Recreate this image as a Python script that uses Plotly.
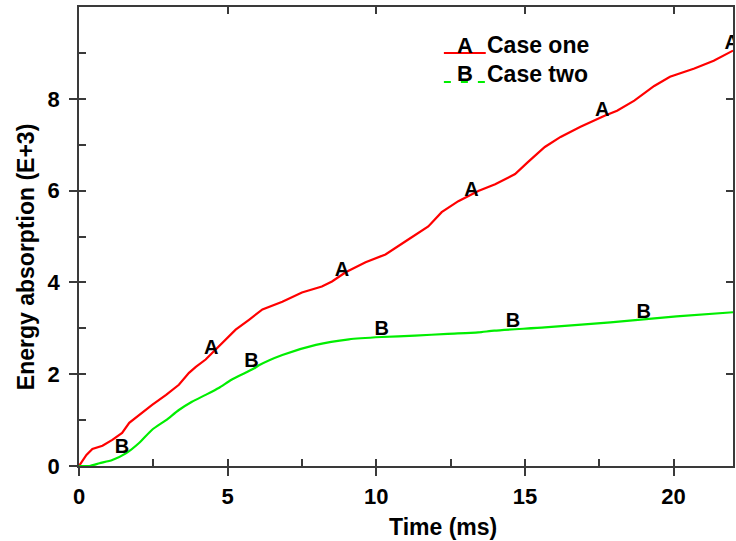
import plotly.graph_objects as go

# Case one (A), red curve
t_a = [0, 0.25, 0.45, 0.79, 1.12, 1.45, 1.69, 2.02, 2.46, 2.93, 3.36, 3.7, 3.93, 4.26, 4.6, 4.93, 5.27, 5.73, 6.17, 6.84, 7.5, 8.17, 8.51, 8.97,
       9.64, 10.31, 10.75, 11.09, 11.75, 12.2, 12.76, 13.43, 14.0, 14.67, 15.1, 15.67, 16.2, 16.87, 17.68, 18.1, 18.68, 19.35, 19.88, 20.7, 21.35, 22.0]
e_a = [0, 0.24, 0.37, 0.44, 0.57, 0.72, 0.94, 1.11, 1.33, 1.55, 1.77, 2.03, 2.16, 2.32, 2.54, 2.75, 2.97, 3.19, 3.41, 3.58, 3.78, 3.91, 4.02, 4.22,
       4.44, 4.61, 4.79, 4.94, 5.22, 5.53, 5.77, 5.99, 6.14, 6.36, 6.62, 6.95, 7.17, 7.39, 7.63, 7.74, 7.96, 8.28, 8.48, 8.66, 8.83, 9.05]

# Case two (B), green curve
t_b = [0, 0.35, 0.69, 1.12, 1.59, 2.02, 2.46, 2.93, 3.36, 3.8, 4.26, 4.7, 5.13, 5.6, 5.93, 6.07, 6.84, 7.97, 9.08, 10.18, 11.3, 12.4, 13.43,
       13.97, 15.67, 17.88, 20.1, 22.0]
e_b = [0, 0.0, 0.06, 0.13, 0.28, 0.5, 0.79, 1.0, 1.22, 1.4, 1.55, 1.7, 1.88, 2.03, 2.14, 2.2, 2.42, 2.64, 2.76, 2.81, 2.84, 2.88, 2.91,
       2.95, 3.02, 3.13, 3.26, 3.35]

# Curve labels
lab_a_t = [4.45, 8.85, 13.2, 17.6, 21.96]
lab_a_e = [2.54, 4.24, 5.99, 7.74, 9.2]
lab_b_t = [1.45, 5.8, 10.18, 14.6, 19.0]
lab_b_e = [0.39, 2.27, 2.97, 3.13, 3.34]

x_range = [0, 22]
y_range = [0, 10]

FONT = "Liberation Sans, Arial, sans-serif"
RED = "#ff0000"
GREEN = "#00ee00"
AX = "#3a3a3a"

L, T, W, H = 79, 7, 656, 459   # plot area in pixels


def px(x):
    return (x - L) / W


def py(y):
    return (T + H - y) / H


def b(s):
    return "<b>" + s + "</b>"


fig = go.Figure()
fig.add_trace(go.Scatter(x=t_a, y=e_a, mode="lines", line=dict(color=RED, width=2.2), showlegend=False))
fig.add_trace(go.Scatter(x=t_b, y=e_b, mode="lines", line=dict(color=GREEN, width=2.2, shape="spline", smoothing=0.6), showlegend=False))
fig.add_trace(go.Scatter(x=lab_a_t, y=lab_a_e, mode="text", text=[b("A")] * len(lab_a_t),
                         textfont=dict(family=FONT, size=20, color="black"), showlegend=False, cliponaxis=True))
fig.add_trace(go.Scatter(x=lab_b_t, y=lab_b_e, mode="text", text=[b("B")] * len(lab_b_t),
                         textfont=dict(family=FONT, size=20, color="black"), showlegend=False, cliponaxis=True))
# helper invisible traces to activate overlay axes for minor / mirrored ticks
fig.add_trace(go.Scatter(x=[None], y=[None], xaxis="x2", yaxis="y2", showlegend=False, hoverinfo="skip"))
fig.add_trace(go.Scatter(x=[None], y=[None], xaxis="x3", yaxis="y3", showlegend=False, hoverinfo="skip"))

tick_common = dict(tickwidth=1.5, tickcolor=AX, showgrid=False, zeroline=False)
tickfont = dict(family=FONT, size=22, color="black", weight="bold")
fig.update_layout(
    width=736, height=541,
    margin=dict(l=L, r=736 - L - W, t=T, b=541 - T - H),
    paper_bgcolor="white", plot_bgcolor="white",
    font=dict(family=FONT, size=22, color="black"),
    xaxis=dict(range=x_range, dtick=5, ticks="outside", ticklen=8, showline=True, linecolor=AX, linewidth=1.5,
               mirror=True, tickfont=tickfont, ticklabelstandoff=2, **tick_common),
    yaxis=dict(range=y_range, tickvals=[0, 2, 4, 6, 8], ticks="outside", ticklen=8, showline=True, linecolor=AX,
               linewidth=1.5, mirror=True, tickfont=tickfont, ticklabelstandoff=5, **tick_common),
    xaxis2=dict(range=x_range, overlaying="x", dtick=2.5, ticks="inside", ticklen=7, showticklabels=False,
                showline=False, side="bottom", **tick_common),
    yaxis2=dict(range=y_range, overlaying="y", dtick=1, ticks="inside", ticklen=7, showticklabels=False,
                showline=False, side="left", **tick_common),
    xaxis3=dict(range=x_range, overlaying="x", dtick=5, ticks="inside", ticklen=7, showticklabels=False,
                showline=False, side="top", **tick_common),
    yaxis3=dict(range=y_range, overlaying="y", dtick=2, ticks="inside", ticklen=7, showticklabels=False,
                showline=False, side="right", **tick_common),
    showlegend=False,
)

# axis titles
fig.add_annotation(xref="paper", yref="paper", x=px(444), y=py(527), text=b("Time (ms)"), showarrow=False,
                   font=dict(family=FONT, size=23), xanchor="center", yanchor="middle")
fig.add_annotation(xref="paper", yref="paper", x=px(26), y=py(257), text=b("Energy absorption (E+3)"), showarrow=False,
                   font=dict(family=FONT, size=23), textangle=-90, xanchor="center", yanchor="middle")

# custom legend
legend_items = [("A", "Case one", RED, "solid", 45, 53), ("B", "Case two", GREEN, "7px,10px", 73.5, 82)]
for letter, name, col, dash, ty, ly in legend_items:
    fig.add_shape(type="line", xref="paper", yref="paper", x0=px(445), x1=px(487),
                  y0=py(ly), y1=py(ly), line=dict(color=col, width=2.2, dash=dash))
    fig.add_annotation(xref="paper", yref="paper", x=px(466), y=py(ty), text=b(letter), showarrow=False,
                       font=dict(family=FONT, size=22, color="black"), xanchor="center", yanchor="middle")
    fig.add_annotation(xref="paper", yref="paper", x=px(486), y=py(ty), text=b(name), showarrow=False,
                       font=dict(family=FONT, size=23, color="black"), xanchor="left", yanchor="middle")

fig.write_html("out.html")
